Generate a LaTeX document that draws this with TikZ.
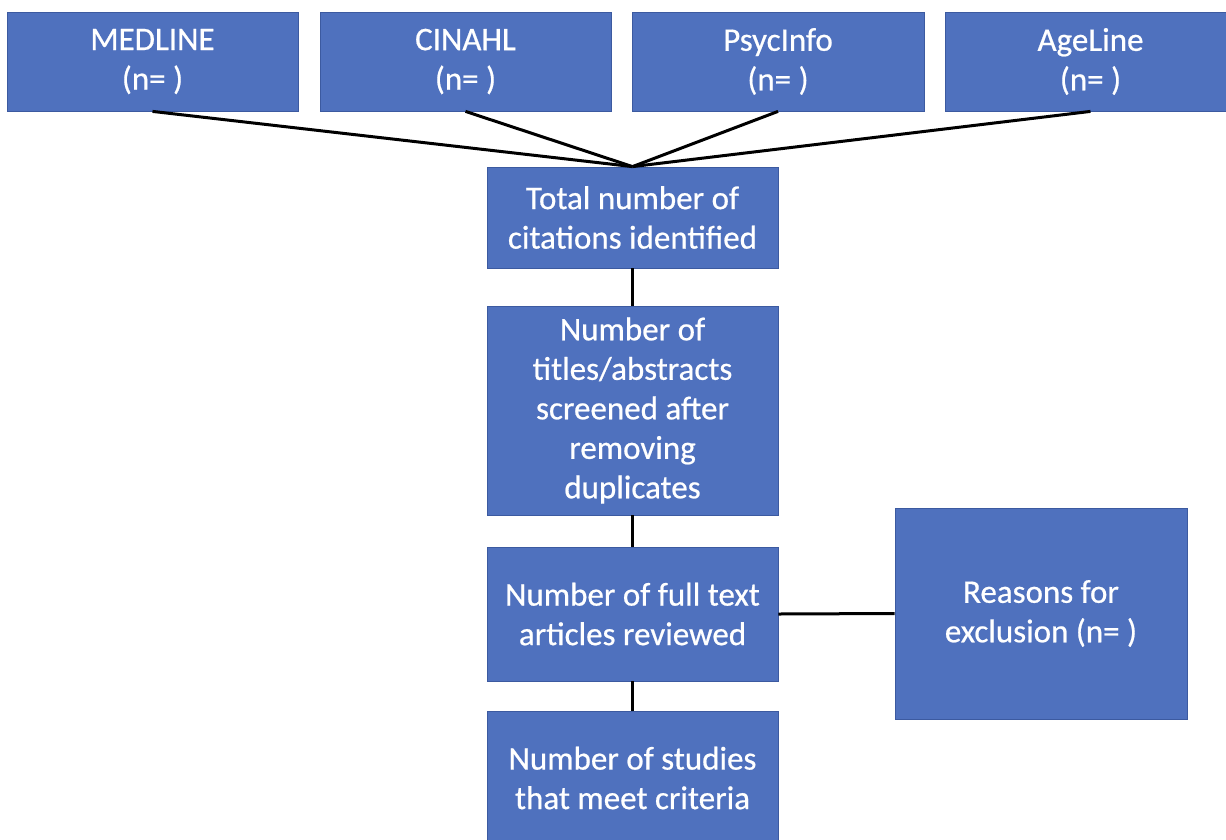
\documentclass[tikz,border=0pt]{standalone}
\usepackage{fontspec}
\setmainfont{Carlito}[FakeBold=0.6]
\definecolor{boxblue}{RGB}{79,113,190}
\definecolor{boxedge}{RGB}{60,90,160}
\begin{document}
\begin{tikzpicture}[x=1pt,y=-1pt,
  box/.style={rectangle, draw=boxedge, line width=0.8pt, fill=boxblue, text=white,
    align=center, inner sep=0pt, font=\fontsize{33}{39.5}\selectfont},
  label/.style={text=white, align=center, inner sep=0pt, font=\fontsize{33}{39.5}\selectfont},
  link/.style={line width=3pt, black}]
\useasboundingbox (0,0) rectangle (1226,839);
\node[box, minimum width=291, minimum height=99] (med) at (152.5,61.5) {MEDLINE\\(n= )};
\node[box, minimum width=291, minimum height=99] (cin) at (465.5,61.5) {CINAHL\\(n= )};
\node[box, minimum width=292, minimum height=99] (psy) at (778,61.5) {PsycInfo\\(n= )};
\node[box, minimum width=291, minimum height=99] (age) at (1090.5,61.5) {AgeLine\\(n= )};
\node[box, minimum width=291, minimum height=101] (tot) at (632.5,217.5) {Total number of\\citations identified};
\node[box, minimum width=291, minimum height=209] (tit) at (632.5,410.5) {Number of\\titles/abstracts\\screened after\\removing\\duplicates};
\node[box, minimum width=291, minimum height=134] (ful) at (632.5,614) {Number of full text\\articles reviewed};
\node[box, minimum width=291, minimum height=150] (stu) at (632.5,786) {};
\node[label] (stut) at (632.5,778) {Number of studies\\that meet criteria};
\node[box, minimum width=292, minimum height=211] (rea) at (1041,613.5) {Reasons for\\exclusion (n= )};
\coordinate (hub) at (tot.north);
\draw[link] (med.south) -- (hub);
\draw[link] (cin.south) -- (hub);
\draw[link] (psy.south) -- (hub);
\draw[link] (age.south) -- (hub);
\draw[link] (tot.south) -- (tit.north);
\draw[link] (tit.south) -- (ful.north);
\draw[link] (ful.south) -- (stu.north);
\draw[link] (ful.east) -- (rea.west);
\end{tikzpicture}
\end{document}
